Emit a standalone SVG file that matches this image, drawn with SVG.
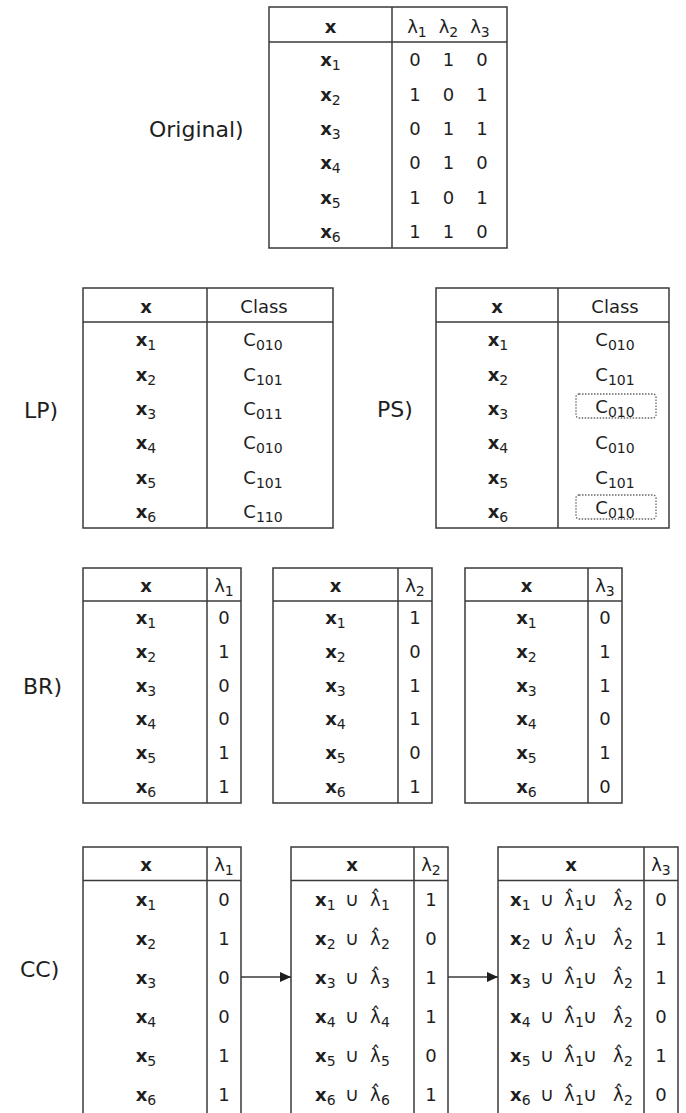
<svg xmlns="http://www.w3.org/2000/svg" width="686" height="1113" viewBox="0 0 686 1113">
<style>
text{font-family:"DejaVu Sans",Verdana,"Liberation Sans",sans-serif;font-size:18px;fill:#1e1e1e}
.m{text-anchor:middle}
.b{font-weight:bold}
.s{font-size:14px}
.u{font-size:19px}
.lbl{font-size:22px}
.tb{fill:none;stroke:#3a3a3a;stroke-width:1.5}
.dot{fill:none;stroke:#666;stroke-width:1.3;stroke-dasharray:1.5 1.5}
.con{stroke:#3a3a3a;stroke-width:1.5;fill:none}
</style>
<defs>
<marker id="ah" markerUnits="userSpaceOnUse" markerWidth="11" markerHeight="10" refX="11" refY="5" orient="auto">
<path d="M0,0 L11,5 L0,10 z" fill="#1e1e1e"/>
</marker>
</defs>

<g id="original">
<text class="lbl" x="149" y="137">Original)</text>
<rect class="tb" x="269" y="7" width="238" height="241"/>
<line class="tb" x1="269" y1="42" x2="507" y2="42"/>
<line class="tb" x1="392" y1="7" x2="392" y2="248"/>
<text class="m b" x="330.5" y="33">x</text>
<text class="m" x="417" y="33">λ<tspan class="s" dy="4">1</tspan></text>
<text class="m" x="448.5" y="33">λ<tspan class="s" dy="4">2</tspan></text>
<text class="m" x="480" y="33">λ<tspan class="s" dy="4">3</tspan></text>
<text class="m" x="330.5" y="66"><tspan class="b">x</tspan><tspan class="s" dy="4">1</tspan></text>
<text class="m" x="330.5" y="100.5"><tspan class="b">x</tspan><tspan class="s" dy="4">2</tspan></text>
<text class="m" x="330.5" y="135"><tspan class="b">x</tspan><tspan class="s" dy="4">3</tspan></text>
<text class="m" x="330.5" y="169"><tspan class="b">x</tspan><tspan class="s" dy="4">4</tspan></text>
<text class="m" x="330.5" y="203.5"><tspan class="b">x</tspan><tspan class="s" dy="4">5</tspan></text>
<text class="m" x="330.5" y="238"><tspan class="b">x</tspan><tspan class="s" dy="4">6</tspan></text>
<text class="m" x="415" y="66">0</text><text class="m" x="448.5" y="66">1</text><text class="m" x="482" y="66">0</text>
<text class="m" x="415" y="100.5">1</text><text class="m" x="448.5" y="100.5">0</text><text class="m" x="482" y="100.5">1</text>
<text class="m" x="415" y="135">0</text><text class="m" x="448.5" y="135">1</text><text class="m" x="482" y="135">1</text>
<text class="m" x="415" y="169">0</text><text class="m" x="448.5" y="169">1</text><text class="m" x="482" y="169">0</text>
<text class="m" x="415" y="203.5">1</text><text class="m" x="448.5" y="203.5">0</text><text class="m" x="482" y="203.5">1</text>
<text class="m" x="415" y="238">1</text><text class="m" x="448.5" y="238">1</text><text class="m" x="482" y="238">0</text>
</g>

<g id="lp">
<text class="lbl" x="24" y="418">LP)</text>
<rect class="tb" x="83" y="288" width="250" height="240"/>
<line class="tb" x1="83" y1="322" x2="333" y2="322"/>
<line class="tb" x1="207" y1="288" x2="207" y2="528"/>
<text class="m b" x="146" y="313">x</text>
<text class="m" x="264" y="313">Class</text>
<text class="m" x="146" y="346"><tspan class="b">x</tspan><tspan class="s" dy="4">1</tspan></text>
<text class="m" x="146" y="380.5"><tspan class="b">x</tspan><tspan class="s" dy="4">2</tspan></text>
<text class="m" x="146" y="415"><tspan class="b">x</tspan><tspan class="s" dy="4">3</tspan></text>
<text class="m" x="146" y="449"><tspan class="b">x</tspan><tspan class="s" dy="4">4</tspan></text>
<text class="m" x="146" y="483.5"><tspan class="b">x</tspan><tspan class="s" dy="4">5</tspan></text>
<text class="m" x="146" y="518"><tspan class="b">x</tspan><tspan class="s" dy="4">6</tspan></text>
<text class="m" x="263" y="346">C<tspan class="s" dy="4">010</tspan></text>
<text class="m" x="263" y="380.5">C<tspan class="s" dy="4">101</tspan></text>
<text class="m" x="263" y="415">C<tspan class="s" dy="4">011</tspan></text>
<text class="m" x="263" y="449">C<tspan class="s" dy="4">010</tspan></text>
<text class="m" x="263" y="483.5">C<tspan class="s" dy="4">101</tspan></text>
<text class="m" x="263" y="518">C<tspan class="s" dy="4">110</tspan></text>
</g>

<g id="ps">
<text class="lbl" x="377" y="417">PS)</text>
<rect class="tb" x="436" y="288" width="233" height="240"/>
<line class="tb" x1="436" y1="322" x2="669" y2="322"/>
<line class="tb" x1="558" y1="288" x2="558" y2="528"/>
<text class="m b" x="497" y="313">x</text>
<text class="m" x="615" y="313">Class</text>
<text class="m" x="498" y="346"><tspan class="b">x</tspan><tspan class="s" dy="4">1</tspan></text>
<text class="m" x="498" y="380.5"><tspan class="b">x</tspan><tspan class="s" dy="4">2</tspan></text>
<text class="m" x="498" y="415"><tspan class="b">x</tspan><tspan class="s" dy="4">3</tspan></text>
<text class="m" x="498" y="449"><tspan class="b">x</tspan><tspan class="s" dy="4">4</tspan></text>
<text class="m" x="498" y="483.5"><tspan class="b">x</tspan><tspan class="s" dy="4">5</tspan></text>
<text class="m" x="498" y="518"><tspan class="b">x</tspan><tspan class="s" dy="4">6</tspan></text>
<text class="m" x="615" y="346">C<tspan class="s" dy="4">010</tspan></text>
<text class="m" x="615" y="380.5">C<tspan class="s" dy="4">101</tspan></text>
<text class="m" x="615" y="413">C<tspan class="s" dy="4">010</tspan></text>
<text class="m" x="615" y="449">C<tspan class="s" dy="4">010</tspan></text>
<text class="m" x="615" y="483.5">C<tspan class="s" dy="4">101</tspan></text>
<text class="m" x="615" y="514">C<tspan class="s" dy="4">010</tspan></text>
<rect class="dot" x="576" y="394" width="80" height="24" rx="3"/>
<rect class="dot" x="576" y="495" width="80" height="24" rx="3"/>
</g>

<g id="br">
<text class="lbl" x="23" y="694">BR)</text>
<rect class="tb" x="83" y="568" width="158" height="235"/>
<line class="tb" x1="83" y1="601" x2="241" y2="601"/>
<line class="tb" x1="207" y1="568" x2="207" y2="803"/>
<rect class="tb" x="273" y="568" width="159" height="235"/>
<line class="tb" x1="273" y1="601" x2="432" y2="601"/>
<line class="tb" x1="398" y1="568" x2="398" y2="803"/>
<rect class="tb" x="465" y="568" width="157" height="235"/>
<line class="tb" x1="465" y1="601" x2="622" y2="601"/>
<line class="tb" x1="588" y1="568" x2="588" y2="803"/>
<text class="m b" x="146" y="592">x</text>
<text class="m" x="224" y="592">λ<tspan class="s" dy="4">1</tspan></text>
<text class="m b" x="335.5" y="592">x</text>
<text class="m" x="415" y="592">λ<tspan class="s" dy="4">2</tspan></text>
<text class="m b" x="526.5" y="592">x</text>
<text class="m" x="605" y="592">λ<tspan class="s" dy="4">3</tspan></text>
<text class="m" x="146" y="624"><tspan class="b">x</tspan><tspan class="s" dy="4">1</tspan></text>
<text class="m" x="146" y="658"><tspan class="b">x</tspan><tspan class="s" dy="4">2</tspan></text>
<text class="m" x="146" y="692"><tspan class="b">x</tspan><tspan class="s" dy="4">3</tspan></text>
<text class="m" x="146" y="725"><tspan class="b">x</tspan><tspan class="s" dy="4">4</tspan></text>
<text class="m" x="146" y="759"><tspan class="b">x</tspan><tspan class="s" dy="4">5</tspan></text>
<text class="m" x="146" y="793"><tspan class="b">x</tspan><tspan class="s" dy="4">6</tspan></text>
<text class="m" x="335.5" y="624"><tspan class="b">x</tspan><tspan class="s" dy="4">1</tspan></text>
<text class="m" x="335.5" y="658"><tspan class="b">x</tspan><tspan class="s" dy="4">2</tspan></text>
<text class="m" x="335.5" y="692"><tspan class="b">x</tspan><tspan class="s" dy="4">3</tspan></text>
<text class="m" x="335.5" y="725"><tspan class="b">x</tspan><tspan class="s" dy="4">4</tspan></text>
<text class="m" x="335.5" y="759"><tspan class="b">x</tspan><tspan class="s" dy="4">5</tspan></text>
<text class="m" x="335.5" y="793"><tspan class="b">x</tspan><tspan class="s" dy="4">6</tspan></text>
<text class="m" x="526.5" y="624"><tspan class="b">x</tspan><tspan class="s" dy="4">1</tspan></text>
<text class="m" x="526.5" y="658"><tspan class="b">x</tspan><tspan class="s" dy="4">2</tspan></text>
<text class="m" x="526.5" y="692"><tspan class="b">x</tspan><tspan class="s" dy="4">3</tspan></text>
<text class="m" x="526.5" y="725"><tspan class="b">x</tspan><tspan class="s" dy="4">4</tspan></text>
<text class="m" x="526.5" y="759"><tspan class="b">x</tspan><tspan class="s" dy="4">5</tspan></text>
<text class="m" x="526.5" y="793"><tspan class="b">x</tspan><tspan class="s" dy="4">6</tspan></text>
<text class="m" x="224" y="624">0</text><text class="m" x="224" y="658">1</text><text class="m" x="224" y="692">0</text>
<text class="m" x="224" y="725">0</text><text class="m" x="224" y="759">1</text><text class="m" x="224" y="793">1</text>
<text class="m" x="415" y="624">1</text><text class="m" x="415" y="658">0</text><text class="m" x="415" y="692">1</text>
<text class="m" x="415" y="725">1</text><text class="m" x="415" y="759">0</text><text class="m" x="415" y="793">1</text>
<text class="m" x="605" y="624">0</text><text class="m" x="605" y="658">1</text><text class="m" x="605" y="692">1</text>
<text class="m" x="605" y="725">0</text><text class="m" x="605" y="759">1</text><text class="m" x="605" y="793">0</text>
</g>

<g id="cc">
<text class="lbl" x="20" y="977">CC)</text>
</g>

<g id="cc1">
<path class="tb" d="M83,1114 V847 H241 V1114"/>
<line class="tb" x1="83" y1="880.5" x2="241" y2="880.5"/>
<line class="tb" x1="207" y1="847" x2="207" y2="1114"/>
<text class="m b" x="146" y="871">x</text>
<text class="m" x="224" y="871">λ<tspan class="s" dy="4">1</tspan></text>
<text class="m" x="146" y="906"><tspan class="b">x</tspan><tspan class="s" dy="4">1</tspan></text>
<text class="m" x="146" y="945"><tspan class="b">x</tspan><tspan class="s" dy="4">2</tspan></text>
<text class="m" x="146" y="984"><tspan class="b">x</tspan><tspan class="s" dy="4">3</tspan></text>
<text class="m" x="146" y="1023"><tspan class="b">x</tspan><tspan class="s" dy="4">4</tspan></text>
<text class="m" x="146" y="1062"><tspan class="b">x</tspan><tspan class="s" dy="4">5</tspan></text>
<text class="m" x="146" y="1101"><tspan class="b">x</tspan><tspan class="s" dy="4">6</tspan></text>
<text class="m" x="224" y="906">0</text><text class="m" x="224" y="945">1</text><text class="m" x="224" y="984">0</text>
<text class="m" x="224" y="1023">0</text><text class="m" x="224" y="1062">1</text><text class="m" x="224" y="1101">1</text>
</g>

<g id="cc2">
<path class="tb" d="M291,1114 V847 H448 V1114"/>
<line class="tb" x1="291" y1="880.5" x2="448" y2="880.5"/>
<line class="tb" x1="414" y1="847" x2="414" y2="1114"/>
<text class="m b" x="352" y="871">x</text>
<text class="m" x="431" y="871">λ<tspan class="s" dy="4">2</tspan></text>
<text x="315" y="906"><tspan class="b">x</tspan><tspan class="s" dy="4">1</tspan><tspan class="u" x="345" y="906">∪</tspan><tspan x="370">λ̂</tspan><tspan class="s" x="381" dy="4">1</tspan></text>
<text x="315" y="945"><tspan class="b">x</tspan><tspan class="s" dy="4">2</tspan><tspan class="u" x="345" y="945">∪</tspan><tspan x="370">λ̂</tspan><tspan class="s" x="381" dy="4">2</tspan></text>
<text x="315" y="984"><tspan class="b">x</tspan><tspan class="s" dy="4">3</tspan><tspan class="u" x="345" y="984">∪</tspan><tspan x="370">λ̂</tspan><tspan class="s" x="381" dy="4">3</tspan></text>
<text x="315" y="1023"><tspan class="b">x</tspan><tspan class="s" dy="4">4</tspan><tspan class="u" x="345" y="1023">∪</tspan><tspan x="370">λ̂</tspan><tspan class="s" x="381" dy="4">4</tspan></text>
<text x="315" y="1062"><tspan class="b">x</tspan><tspan class="s" dy="4">5</tspan><tspan class="u" x="345" y="1062">∪</tspan><tspan x="370">λ̂</tspan><tspan class="s" x="381" dy="4">5</tspan></text>
<text x="315" y="1101"><tspan class="b">x</tspan><tspan class="s" dy="4">6</tspan><tspan class="u" x="345" y="1101">∪</tspan><tspan x="370">λ̂</tspan><tspan class="s" x="381" dy="4">6</tspan></text>
<text class="m" x="431" y="906">1</text><text class="m" x="431" y="945">0</text><text class="m" x="431" y="984">1</text>
<text class="m" x="431" y="1023">1</text><text class="m" x="431" y="1062">0</text><text class="m" x="431" y="1101">1</text>
</g>

<g id="cc3">
<path class="tb" d="M498,1114 V847 H678 V1114"/>
<line class="tb" x1="498" y1="880.5" x2="678" y2="880.5"/>
<line class="tb" x1="644" y1="847" x2="644" y2="1114"/>
<text class="m b" x="571" y="871">x</text>
<text class="m" x="661" y="871">λ<tspan class="s" dy="4">3</tspan></text>
<text x="510" y="906"><tspan class="b">x</tspan><tspan class="s" dy="4">1</tspan><tspan class="u" x="540" y="906">∪</tspan><tspan x="564">λ̂</tspan><tspan class="s" x="575" dy="4">1</tspan><tspan class="u" x="583" y="906">∪</tspan><tspan x="613">λ̂</tspan><tspan class="s" x="624" dy="4">2</tspan></text>
<text x="510" y="945"><tspan class="b">x</tspan><tspan class="s" dy="4">2</tspan><tspan class="u" x="540" y="945">∪</tspan><tspan x="564">λ̂</tspan><tspan class="s" x="575" dy="4">1</tspan><tspan class="u" x="583" y="945">∪</tspan><tspan x="613">λ̂</tspan><tspan class="s" x="624" dy="4">2</tspan></text>
<text x="510" y="984"><tspan class="b">x</tspan><tspan class="s" dy="4">3</tspan><tspan class="u" x="540" y="984">∪</tspan><tspan x="564">λ̂</tspan><tspan class="s" x="575" dy="4">1</tspan><tspan class="u" x="583" y="984">∪</tspan><tspan x="613">λ̂</tspan><tspan class="s" x="624" dy="4">2</tspan></text>
<text x="510" y="1023"><tspan class="b">x</tspan><tspan class="s" dy="4">4</tspan><tspan class="u" x="540" y="1023">∪</tspan><tspan x="564">λ̂</tspan><tspan class="s" x="575" dy="4">1</tspan><tspan class="u" x="583" y="1023">∪</tspan><tspan x="613">λ̂</tspan><tspan class="s" x="624" dy="4">2</tspan></text>
<text x="510" y="1062"><tspan class="b">x</tspan><tspan class="s" dy="4">5</tspan><tspan class="u" x="540" y="1062">∪</tspan><tspan x="564">λ̂</tspan><tspan class="s" x="575" dy="4">1</tspan><tspan class="u" x="583" y="1062">∪</tspan><tspan x="613">λ̂</tspan><tspan class="s" x="624" dy="4">2</tspan></text>
<text x="510" y="1101"><tspan class="b">x</tspan><tspan class="s" dy="4">6</tspan><tspan class="u" x="540" y="1101">∪</tspan><tspan x="564">λ̂</tspan><tspan class="s" x="575" dy="4">1</tspan><tspan class="u" x="583" y="1101">∪</tspan><tspan x="613">λ̂</tspan><tspan class="s" x="624" dy="4">2</tspan></text>
<text class="m" x="661" y="906">0</text><text class="m" x="661" y="945">1</text><text class="m" x="661" y="984">1</text>
<text class="m" x="661" y="1023">0</text><text class="m" x="661" y="1062">1</text><text class="m" x="661" y="1101">0</text>
</g>

<g id="connectors">
<line class="con" x1="241" y1="977" x2="291" y2="977" marker-end="url(#ah)"/>
<line class="con" x1="448" y1="977" x2="498" y2="977" marker-end="url(#ah)"/>
</g>
</svg>
